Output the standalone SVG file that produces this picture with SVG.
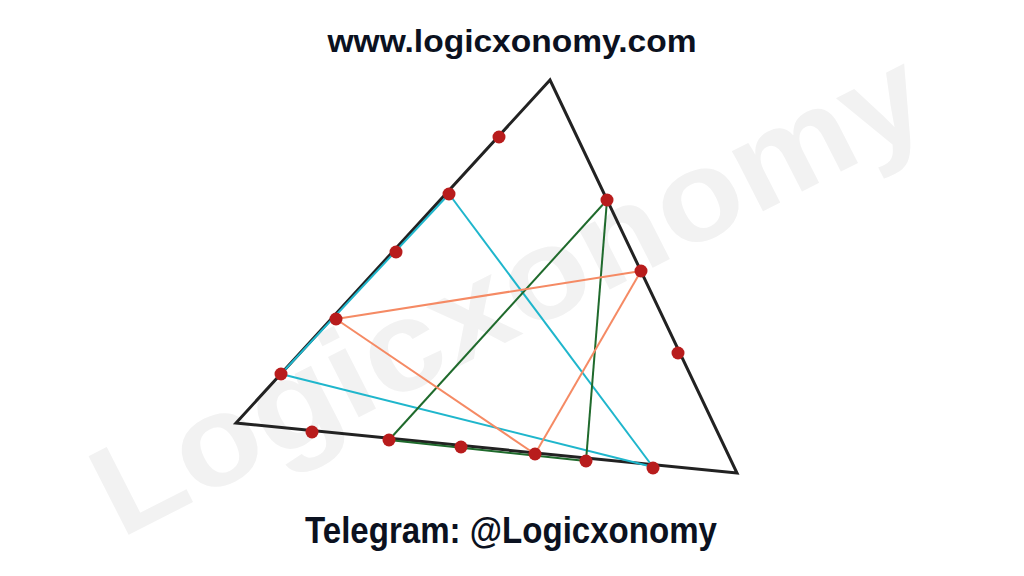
<svg xmlns="http://www.w3.org/2000/svg" width="1024" height="576" viewBox="0 0 1024 576">
<style>
.title{font-family:"Liberation Sans",Arial,sans-serif;font-weight:bold;fill:#0b1120;text-anchor:middle}
.wm{font-family:"Liberation Sans",Arial,sans-serif;font-weight:900;fill:#f2f2f2;text-anchor:middle}
.tri{fill:none;stroke:#222;stroke-width:3;stroke-linejoin:miter}
.cy{stroke:#1fb6cc;stroke-width:2;fill:none}
.gr{stroke:#1f6a2c;stroke-width:2;fill:none}
.or{stroke:#f58a64;stroke-width:2;fill:none}
.dot{fill:#b81c1c}
</style>
<rect width="1024" height="576" fill="#ffffff"/>
<text class="wm" x="512" y="335" font-size="128" textLength="915" lengthAdjust="spacingAndGlyphs" transform="rotate(-27 512 300)">Logicxonomy</text>
<g id="triangle"><polygon class="tri" points="550,80 236,423 737,473"/></g>
<g id="connectors">
<line class="cy" x1="281" y1="374" x2="449" y2="194"/>
<line class="cy" x1="449" y1="194" x2="653" y2="467"/>
<line class="cy" x1="281" y1="374" x2="653" y2="467"/>
<line class="gr" x1="607" y1="200" x2="389" y2="440"/>
<line class="gr" x1="607" y1="200" x2="586" y2="461"/>
<line class="gr" x1="389" y1="440" x2="586" y2="461"/>
<line class="or" x1="336" y1="319" x2="641" y2="271"/>
<line class="or" x1="336" y1="319" x2="535" y2="454"/>
<line class="or" x1="641" y1="271" x2="535" y2="454"/>
</g>
<g id="points">
<circle class="dot" cx="499" cy="137" r="6.5"/>
<circle class="dot" cx="449" cy="194" r="6.5"/>
<circle class="dot" cx="396" cy="252" r="6.5"/>
<circle class="dot" cx="336" cy="319" r="6.5"/>
<circle class="dot" cx="281" cy="374" r="6.5"/>
<circle class="dot" cx="607" cy="200" r="6.5"/>
<circle class="dot" cx="641" cy="271" r="6.5"/>
<circle class="dot" cx="678" cy="353" r="6.5"/>
<circle class="dot" cx="312" cy="432" r="6.5"/>
<circle class="dot" cx="389" cy="440" r="6.5"/>
<circle class="dot" cx="461" cy="447" r="6.5"/>
<circle class="dot" cx="535" cy="454" r="6.5"/>
<circle class="dot" cx="586" cy="461" r="6.5"/>
<circle class="dot" cx="653" cy="468" r="6.5"/>
</g>
<text class="title" x="512" y="52" font-size="31" textLength="369" lengthAdjust="spacingAndGlyphs">www.logicxonomy.com</text>
<text class="title" x="511" y="543" font-size="37" textLength="412" lengthAdjust="spacingAndGlyphs">Telegram: @Logicxonomy</text>
</svg>
